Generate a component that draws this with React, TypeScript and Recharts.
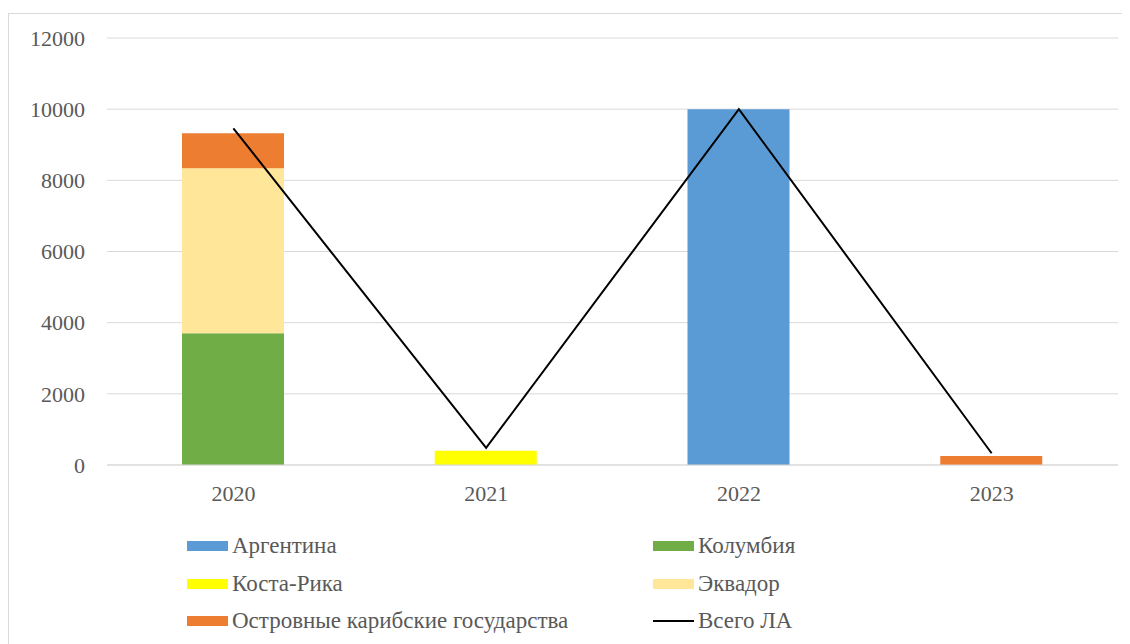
import React from 'react';
import { ComposedChart, Bar, Line, XAxis, YAxis, CartesianGrid, Legend } from 'recharts';

const years = ['2020', '2021', '2022', '2023'];
const argentina = [0, 0, 10000, 0];
const colombia = [3700, 0, 0, 0];
const costaRica = [0, 400, 0, 0];
const ecuador = [4640, 0, 0, 0];
const islands = [980, 0, 0, 250];
const totalLA = [9460, 480, 10000, 330];
const yTicks = [0, 2000, 4000, 6000, 8000, 10000, 12000];

const series = [
  { key: 'argentina', name: 'Аргентина', color: '#5B9BD5', type: 'bar' },
  { key: 'colombia', name: 'Колумбия', color: '#70AD47', type: 'bar' },
  { key: 'costaRica', name: 'Коста-Рика', color: '#FFFF00', type: 'bar' },
  { key: 'ecuador', name: 'Эквадор', color: '#FFE699', type: 'bar' },
  { key: 'islands', name: 'Островные карибские государства', color: '#ED7D31', type: 'bar' },
  { key: 'total', name: 'Всего ЛА', color: '#000000', type: 'line' },
];

const data = years.map((year, i) => ({
  year,
  argentina: argentina[i],
  colombia: colombia[i],
  costaRica: costaRica[i],
  ecuador: ecuador[i],
  islands: islands[i],
  total: totalLA[i],
}));

const FONT = 'Liberation Serif, DejaVu Serif, Times New Roman, serif';

// легенда в две колонки, как в Excel
const LegendGrid = () => (
  <div style={{ position: 'relative', height: 110, fontFamily: FONT, fontSize: 23, color: '#595959' }}>
    {series.map((s, i) => {
      const col = i % 2;
      const row = Math.floor(i / 2);
      return (
        <div
          key={s.key}
          style={{
            position: 'absolute',
            left: col === 0 ? 178 : 644,
            top: row * 37.5,
            display: 'flex',
            alignItems: 'center',
            height: 34,
            whiteSpace: 'nowrap',
          }}
        >
          {s.type === 'bar' ? (
            <span style={{ display: 'inline-block', width: 41, height: 10, background: s.color, marginRight: 4 }} />
          ) : (
            <span style={{ display: 'inline-block', width: 41, height: 2, background: s.color, marginRight: 4 }} />
          )}
          <span>{s.name}</span>
        </div>
      );
    })}
  </div>
);

const App: React.FC = () => {
  return (
    <div style={{ marginTop: 5, width: 1117, height: 640, border: '1px solid #d9d9d9', background: '#fff', fontFamily: FONT }}>
      <ComposedChart
        width={1117}
        height={630}
        data={data}
        margin={{ top: 24, right: 8, left: 0, bottom: 5 }}
        style={{ fontFamily: FONT }}
      >
        <CartesianGrid vertical={false} stroke="#d9d9d9" />
        <XAxis
          dataKey="year"
          height={64}
          tickLine={false}
          tickSize={0}
          tickMargin={20}
          axisLine={{ stroke: '#d9d9d9' }}
          tick={{ fill: '#595959', fontSize: 22, fontFamily: FONT }}
        />
        <YAxis
          width={98}
          domain={[0, 12000]}
          ticks={yTicks}
          axisLine={false}
          tickLine={false}
          tickSize={0}
          tickMargin={22}
          tick={{ fill: '#595959', fontSize: 22, fontFamily: FONT }}
        />
        <Legend verticalAlign="bottom" content={() => <LegendGrid />} wrapperStyle={{ height: 110 }} />
        {series
          .filter((s) => s.type === 'bar')
          .map((s) => (
            <Bar key={s.key} dataKey={s.key} name={s.name} stackId="a" fill={s.color} barSize={102} isAnimationActive={false} />
          ))}
        <Line
          dataKey="total"
          name="Всего ЛА"
          stroke="#000000"
          strokeWidth={2}
          dot={false}
          activeDot={false}
          type="linear"
          isAnimationActive={false}
        />
      </ComposedChart>
    </div>
  );
};

export default App;
